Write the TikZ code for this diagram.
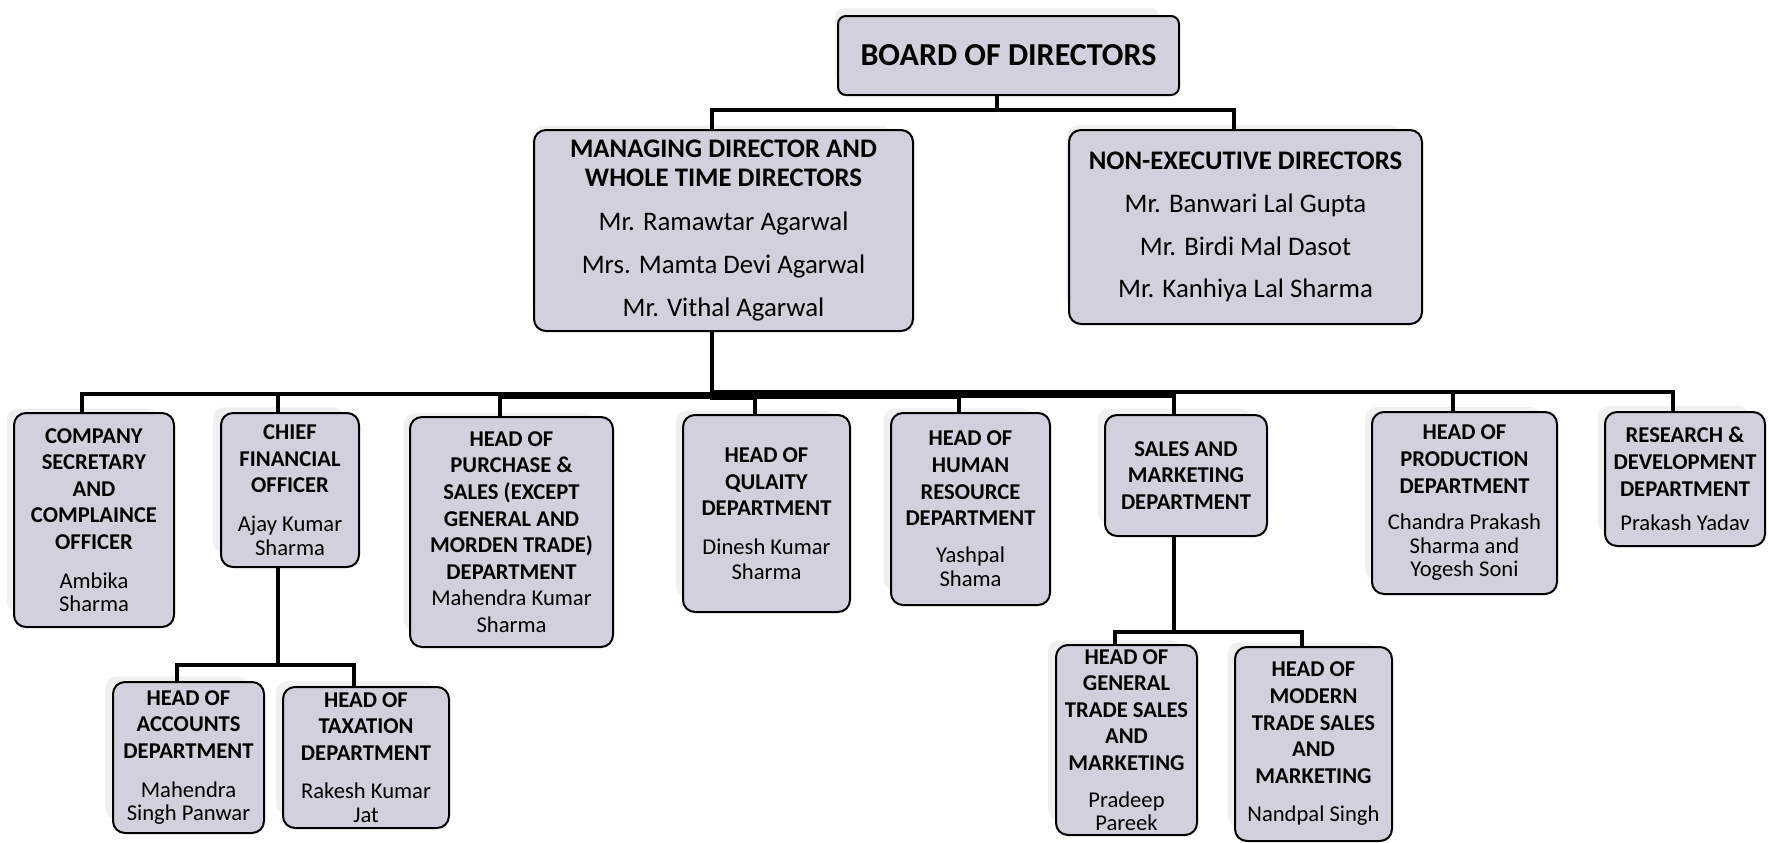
\documentclass[tikz,border=0pt]{standalone}
\usepackage{fontspec}
\setmainfont{Carlito}
\usetikzlibrary{shadows}
\definecolor{boxfill}{RGB}{209,208,220}

\begin{document}
\begin{tikzpicture}[x=0.5pt,y=-0.5pt,
	box/.style={draw=black, line width=1pt, fill=boxfill, rounded corners=6pt,
		align=center, inner sep=2pt,
		general shadow={fill=black!6, shadow xshift=-6pt, shadow yshift=5pt, shadow scale=0.95},
		font=\fontsize{11.3}{13.3}\selectfont},
	topbox/.style={box, font=\fontsize{13.4}{14.7}\selectfont},
	conn/.style={line width=2pt}]

	% canvas
	\useasboundingbox (0,0) rectangle (1769,842);

	% board
	\node[box, rounded corners=4pt, minimum width=170.5pt, minimum height=39.5pt,
		font=\fontsize{16}{18}\selectfont\bfseries] (bod) at (1008.5,55.5) {BOARD OF DIRECTORS};

	% directors
	\node[topbox, minimum width=189.5pt, minimum height=100.5pt] (md) at (723.5,230.5)
		{\textbf{MANAGING DIRECTOR AND}\\\textbf{WHOLE TIME DIRECTORS}\\[7.3pt]
		Mr. Ramawtar Agarwal\\[6.7pt]
		Mrs. Mamta Devi Agarwal\\[6.7pt]
		Mr. Vithal Agarwal};
	\node[topbox, minimum width=176.5pt, minimum height=97pt] (ned) at (1245.5,227)
		{\textbf{NON-EXECUTIVE DIRECTORS}\\[6.7pt]
		Mr. Banwari Lal Gupta\\[6.7pt]
		Mr. Birdi Mal Dasot\\[6.7pt]
		Mr. Kanhiya Lal Sharma};

	% departments
	\node[box, minimum width=80pt, minimum height=107pt] (cs) at (94,520)
		{\textbf{COMPANY}\\\textbf{SECRETARY}\\\textbf{AND}\\\textbf{COMPLAINCE}\\\textbf{OFFICER}\\[6pt]Ambika\\[-1.5pt]Sharma};
	\node[box, minimum width=69pt, minimum height=77pt] (cfo) at (290,490)
		{\textbf{CHIEF}\\\textbf{FINANCIAL}\\\textbf{OFFICER}\\[6pt]Ajay Kumar\\[-1.5pt]Sharma};
	\node[box, minimum width=101.5pt, minimum height=115pt] (pur) at (511.5,532)
		{\textbf{HEAD OF}\\\textbf{PURCHASE \&}\\\textbf{SALES (EXCEPT}\\\textbf{GENERAL AND}\\\textbf{MORDEN TRADE)}\\\textbf{DEPARTMENT}\\Mahendra Kumar\\Sharma};
	\node[box, minimum width=83.5pt, minimum height=98.5pt] (qual) at (766.5,513.5)
		{\textbf{HEAD OF}\\\textbf{QULAITY}\\\textbf{DEPARTMENT}\\[6pt]Dinesh Kumar\\[-1pt]Sharma};
	\node[box, minimum width=79.5pt, minimum height=96pt] (hr) at (970.5,509)
		{\textbf{HEAD OF}\\\textbf{HUMAN}\\\textbf{RESOURCE}\\\textbf{DEPARTMENT}\\[5pt]Yashpal\\[-1pt]Shama};
	\node[box, minimum width=81pt, minimum height=60.5pt] (sales) at (1186,475.5)
		{\textbf{SALES AND}\\\textbf{MARKETING}\\\textbf{DEPARTMENT}};
	\node[box, minimum width=92.5pt, minimum height=91pt] (prod) at (1464.5,503)
		{\textbf{HEAD OF}\\\textbf{PRODUCTION}\\\textbf{DEPARTMENT}\\[5pt]Chandra Prakash\\[-1.5pt]Sharma and\\[-1.5pt]Yogesh Soni};
	\node[box, minimum width=80pt, minimum height=67pt] (rd) at (1685,479)
		{\textbf{RESEARCH \&}\\\textbf{DEVELOPMENT}\\\textbf{DEPARTMENT}\\[4pt]Prakash Yadav};

	% under finance
	\node[box, minimum width=75.5pt, minimum height=75.5pt] (acc) at (188.5,757.5)
		{\textbf{HEAD OF}\\\textbf{ACCOUNTS}\\\textbf{DEPARTMENT}\\[6pt]Mahendra\\[-1.5pt]Singh Panwar};
	\node[box, minimum width=83pt, minimum height=70.5pt] (tax) at (366,757.5)
		{\textbf{HEAD OF}\\\textbf{TAXATION}\\\textbf{DEPARTMENT}\\[6pt]Rakesh Kumar\\[-1.5pt]Jat};

	% under sales
	\node[box, minimum width=70.5pt, minimum height=95pt] (gen) at (1126.5,740)
		{\textbf{HEAD OF}\\\textbf{GENERAL}\\\textbf{TRADE SALES}\\\textbf{AND}\\\textbf{MARKETING}\\[5pt]Pradeep\\[-1.5pt]Pareek};
	\node[box, minimum width=78.5pt, minimum height=97pt] (mod) at (1313.5,744)
		{\textbf{HEAD OF}\\\textbf{MODERN}\\\textbf{TRADE SALES}\\\textbf{AND}\\\textbf{MARKETING}\\[6pt]Nandpal Singh};

	% attach points
	\foreach \n in {bod,md,ned,cs,cfo,pur,qual,hr,sales,prod,rd,acc,tax,gen,mod} {
		\coordinate (\n-in) at ([xshift=-6pt]\n.north);
		\coordinate (\n-out) at ([xshift=-6pt]\n.south);
	}

	% connectors
	\foreach \n in {md,ned}
		\draw[conn] (bod-out) -- (bod-out |- 0,110) -| (\n-in);
	\foreach \n/\y in {cs/394,cfo/394,pur/397,qual/398,hr/397,sales/396,prod/392,rd/392}
		\draw[conn] (md-out) -- (md-out |- 0,\y) -| (\n-in);
	\foreach \n in {acc,tax}
		\draw[conn] (cfo-out) -- (cfo-out |- 0,665) -| (\n-in);
	\foreach \n in {gen,mod}
		\draw[conn] (sales-out) -- (sales-out |- 0,632) -| (\n-in);

\end{tikzpicture}
\end{document}
